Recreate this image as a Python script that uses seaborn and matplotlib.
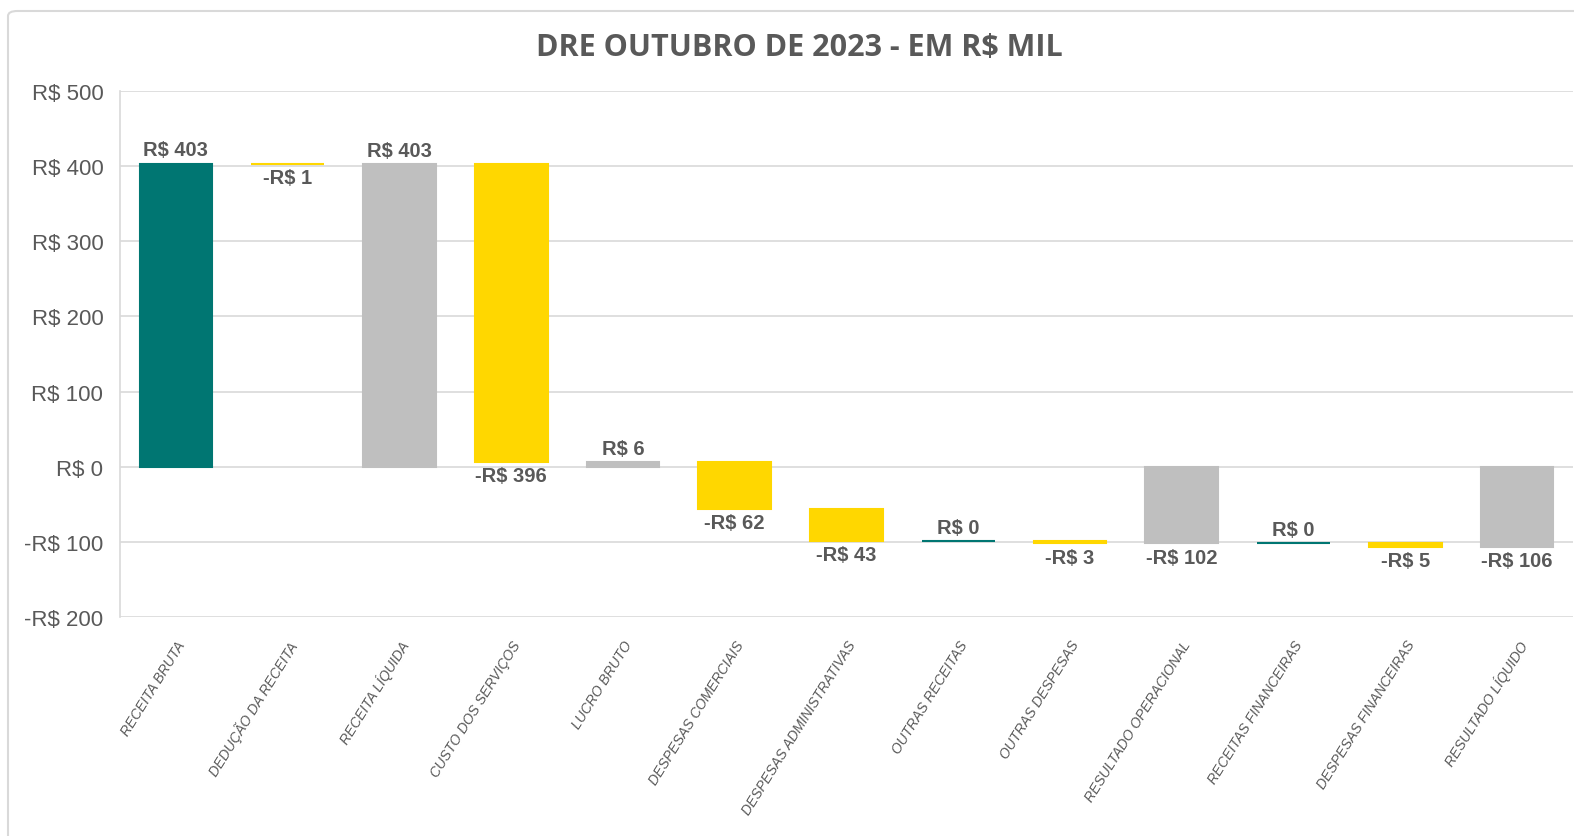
import matplotlib
matplotlib.use("Agg")
import matplotlib.pyplot as plt
import seaborn as sns
import pandas as pd
from matplotlib.patches import FancyBboxPatch

# ---- data ----
categories = [
    "RECEITA BRUTA", "DEDUÇÃO DA RECEITA", "RECEITA LÍQUIDA", "CUSTO DOS SERVIÇOS",
    "LUCRO BRUTO", "DESPESAS COMERCIAIS", "DESPESAS ADMINISTRATIVAS", "OUTRAS RECEITAS",
    "OUTRAS DESPESAS", "RESULTADO OPERACIONAL", "RECEITAS FINANCEIRAS",
    "DESPESAS FINANCEIRAS", "RESULTADO LÍQUIDO",
]
values = [403.4, -0.6, 402.8, -396.4, 6.4, -62.2, -43.3, 0.2, -3.2, -102.1, 0.3, -4.6, -106.4]
kinds = ["up", "down", "total", "down", "total", "down", "down",
         "up", "down", "total", "up", "down", "total"]
y_ticks = [-200, -100, 0, 100, 200, 300, 400, 500]
title = "DRE OUTUBRO DE 2023 - EM R$ MIL"

palette = {"up": "#007672", "down": "#FFD700", "total": "#BFBFBF"}
text_color = "#595959"
grid_color = "#D9D9D9"

# ---- waterfall geometry ----
starts, ends = [], []
running = 0.0
for v, k in zip(values, kinds):
    if k == "total":
        s, e = 0.0, v
        running = v
    else:
        s, e = running, running + v
        running = e
    starts.append(s)
    ends.append(e)

df = pd.DataFrame({
    "cat": categories,
    "height": [e - s for s, e in zip(starts, ends)],
    "kind": kinds,
})


def fmt(v):
    r = int(round(v))
    return f"-R$ {abs(r)}" if r < 0 else f"R$ {r}"


sns.set_theme(style="white")
plt.rcParams["font.family"] = ["Liberation Sans", "DejaVu Sans"]

W, H, DPI = 1574, 837, 100
fig = plt.figure(figsize=(W / DPI, H / DPI), dpi=DPI)
ax = fig.add_axes([120 / W, 1 - 618 / H, (1573 - 120) / W, (618 - 92) / H])

sns.barplot(data=df, x="cat", y="height", hue="kind", order=categories,
            hue_order=["up", "down", "total"], palette=palette, saturation=1,
            width=0.65, dodge=False, legend=False, errorbar=None, ax=ax, zorder=3)

for p in ax.patches:
    idx = int(round(p.get_x() + p.get_width() / 2))
    p.set_y(starts[idx])
    p.set_height(ends[idx] - starts[idx])
    p.set_edgecolor(p.get_facecolor())
    p.set_linewidth(1.5)

# data labels
for i, (v, s, e) in enumerate(zip(values, starts, ends)):
    if v >= 0:
        y, off, va = max(s, e), 3, "bottom"
    else:
        y, off, va = min(s, e), -3, "top"
    ax.annotate(fmt(v), (i, y), xytext=(0, off), textcoords="offset points",
                ha="center", va=va, fontsize=14.5, fontweight="bold",
                color=text_color, zorder=5)

ax.set_ylim(-200, 500)
ax.set_xlim(-0.5, len(categories) - 0.5)
ax.set_yticks(y_ticks)
ax.set_yticklabels([fmt(t) for t in y_ticks], fontsize=16, color=text_color)
ax.set_xticks(range(len(categories)))
ax.set_xticklabels(categories, rotation=58, ha="right", rotation_mode="anchor",
                   fontstyle="italic", fontsize=10, color=text_color)
ax.tick_params(axis="both", length=0)
ax.tick_params(axis="y", pad=12)
ax.tick_params(axis="x", pad=15)
ax.set_xlabel("")
ax.set_ylabel("")
ax.yaxis.grid(True, color=grid_color, linewidth=1.2, zorder=0)
ax.xaxis.grid(False)
ax.set_axisbelow(True)
for side in ["top", "right", "bottom"]:
    ax.spines[side].set_visible(False)
ax.spines["left"].set_color(grid_color)
ax.spines["left"].set_linewidth(1.2)

fig.text(799 / W, 1 - 48 / H, title, ha="center", va="center", fontsize=22,
         fontweight="bold", color=text_color, family=["Open Sans", "DejaVu Sans"])

border = FancyBboxPatch((8 / W, -0.05), 1.2, 1 - 12 / H + 0.05,
                        boxstyle="round,pad=0,rounding_size=0.006",
                        transform=fig.transFigure, facecolor="none",
                        edgecolor=grid_color, linewidth=1.5, zorder=0)
fig.patches.append(border)

fig.savefig("out.png", dpi=DPI)
